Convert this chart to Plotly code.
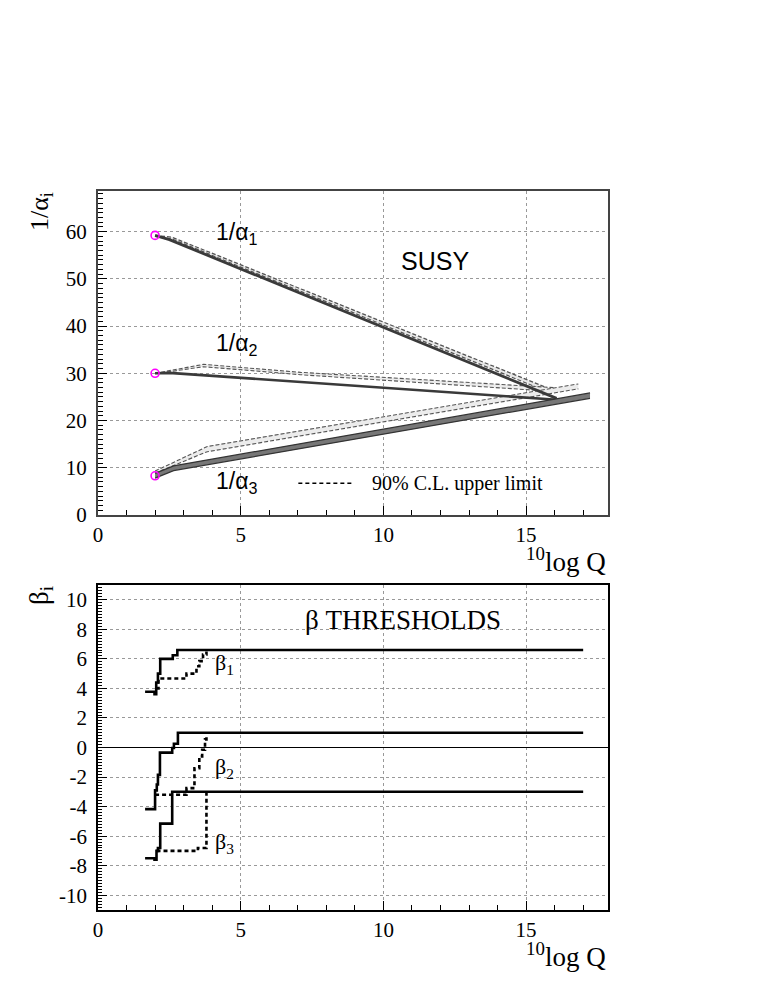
import plotly.graph_objects as go

# ---- top panel: running 1/alpha_i (SUSY) vs 10log Q ----
q_mz = [2.0, 2.0, 2.0]
inv_alpha_mz = [59.2, 30.0, 8.3]

a1_q = [2.0, 2.5, 16.07]
a1 = [59.2, 58.3, 24.7]
a2_q = [2.0, 2.5, 16.07]
a2 = [30.0, 30.1, 24.4]
a3_q = [2.0, 2.65, 17.24]
a3_lo = [7.8, 9.4, 24.7]
a3_hi = [8.8, 10.4, 25.85]

# 90% C.L. upper limit bands
a1_ul_q = [2.0, 2.6, 15.75]
a1_ul_lo = [59.0, 58.4, 26.1]
a1_ul_hi = [59.2, 58.8, 26.9]
a2_ul_q = [2.0, 3.7, 7.1, 16.0]
a2_ul_lo = [29.9, 31.4, 29.7, 26.15]
a2_ul_hi = [30.0, 31.9, 30.2, 26.95]
a3_ul_q = [2.0, 3.83, 16.83]
a3_ul_lo = [8.9, 13.4, 26.7]
a3_ul_hi = [9.3, 14.5, 27.75]

# ---- bottom panel: beta coefficients with thresholds (step functions) ----
b1_q = [1.65, 1.98, 2.04, 2.1, 2.18, 2.62, 2.78, 17.0]
b1 = [3.77, 3.6, 4.4, 5.0, 6.0, 6.25, 6.6, 6.6]
b2_q = [1.65, 2.0, 2.06, 2.1, 2.17, 2.6, 2.66, 2.8, 17.0]
b2 = [-4.17, -2.9, -2.5, -1.85, -0.35, -0.03, 0.25, 1.0, 1.0]
b3_q = [1.65, 1.98, 2.05, 2.1, 2.18, 2.6, 17.0]
b3 = [-7.5, -7.6, -7.0, -6.8, -5.15, -3.0, -3.0]

b1_ul_q = [2.04, 2.12, 3.1, 3.45, 3.55, 3.68, 3.8]
b1_ul = [4.0, 4.67, 5.0, 5.5, 5.85, 6.3, 6.5]
b2_ul_q = [2.0, 3.1, 3.38, 3.55, 3.65, 3.75, 3.8]
b2_ul = [-3.2, -2.75, -1.4, -0.6, -0.15, 0.55, 0.8]
b3_ul_q = [2.05, 3.5, 3.8]
b3_ul = [-7.0, -6.8, -3.0]

# beta axis ticks (plain hyphen minus, like the original)
beta_ticks = [-10, -8, -6, -4, -2, 0, 2, 4, 6, 8, 10]
beta_labels = ["-10", "-8", "-6", "-4", "-2", "0", "2", "4", "6", "8", "10"]

SERIF = "Liberation Serif, Times New Roman, serif"
SANS = "Liberation Sans, Arial, sans-serif"

fig = go.Figure()


def band(xs, lo, hi, fill, edge, dash, width):
    fig.add_trace(go.Scatter(x=xs + xs[::-1], y=hi + lo[::-1], fill="toself",
                             fillcolor=fill, mode="lines", line=dict(width=0),
                             hoverinfo="skip", showlegend=False))
    for ys in (lo, hi):
        fig.add_trace(go.Scatter(x=xs, y=ys, mode="lines", showlegend=False,
                                 line=dict(color=edge, width=width, dash=dash)))


# dashed upper-limit bands first, solid curves on top
band(a1_ul_q, a1_ul_lo, a1_ul_hi, "#e8e8e8", "#555555", "4px,2px", 1.3)
band(a2_ul_q, a2_ul_lo, a2_ul_hi, "#ececec", "#555555", "4px,2px", 1.1)
band(a3_ul_q, a3_ul_lo, a3_ul_hi, "#ececec", "#555555", "4px,2px", 1.1)

fig.add_trace(go.Scatter(x=a1_q, y=a1, mode="lines", showlegend=False,
                         line=dict(color="#3a3a3a", width=2.8)))
fig.add_trace(go.Scatter(x=a2_q, y=a2, mode="lines", showlegend=False,
                         line=dict(color="#3a3a3a", width=2.6)))
band(a3_q, a3_lo, a3_hi, "#777777", "#333333", "solid", 1.2)

fig.add_trace(go.Scatter(x=q_mz, y=inv_alpha_mz, mode="markers", showlegend=False,
                         marker=dict(symbol="circle-open", size=8, color="magenta",
                                     line=dict(width=1.6))))

# bottom panel
for xs, ys in ((b1_q, b1), (b2_q, b2), (b3_q, b3)):
    fig.add_trace(go.Scatter(x=xs, y=ys, mode="lines", line_shape="hv",
                             showlegend=False, xaxis="x2", yaxis="y2",
                             line=dict(color="black", width=2.6)))
for xs, ys in ((b1_ul_q, b1_ul), (b2_ul_q, b2_ul), (b3_ul_q, b3_ul)):
    fig.add_trace(go.Scatter(x=xs, y=ys, mode="lines", line_shape="hv",
                             showlegend=False, xaxis="x2", yaxis="y2",
                             line=dict(color="black", width=2.6, dash="4px,3px")))

axis_common = dict(showline=True, mirror=True, ticks="inside", ticklen=9,
                   tickcolor="black", showgrid=True, gridcolor="#999999",
                   griddash="dot", gridwidth=1, zeroline=False,
                   tickfont=dict(family=SERIF, size=21, color="black"))

# page body has an 8px margin, so the figure is 8px smaller than the window
fig.update_layout(
    width=755, height=973,
    margin=dict(l=90, r=155, t=183, b=71),
    paper_bgcolor="white", plot_bgcolor="white",
    xaxis=dict(axis_common, domain=[0, 1], range=[0, 17.87], anchor="y",
               dtick=5, tick0=0, linecolor="#444444", linewidth=2,
               ticklabelstandoff=0,
               minor=dict(dtick=1, ticklen=5, ticks="inside", tickcolor="black",
                          showgrid=False)),
    yaxis=dict(axis_common, domain=[0.5494, 1], range=[0, 68.6], anchor="x",
               dtick=10, tick0=0, linecolor="#444444", linewidth=2,
               ticklabelstandoff=5,
               minor=dict(dtick=1, ticklen=5, ticks="inside", tickcolor="black",
                          showgrid=False)),
    xaxis2=dict(axis_common, domain=[0, 1], range=[0, 17.87], anchor="y2",
                dtick=5, tick0=0, linecolor="black", linewidth=1.5,
                ticklabelstandoff=0,
                minor=dict(dtick=1, ticklen=5, ticks="inside", tickcolor="black",
                           showgrid=False)),
    yaxis2=dict(axis_common, domain=[0, 0.452], range=[-11, 11], anchor="x2",
                tickmode="array", tickvals=beta_ticks, ticktext=beta_labels,
                linecolor="black", linewidth=1.5,
                ticklabelstandoff=5, zeroline=True, zerolinecolor="black",
                zerolinewidth=1.3,
                minor=dict(tickmode="linear", tick0=0, dtick=0.2, ticklen=4,
                           ticks="inside", tickcolor="black", showgrid=False)),
)

# legend sample for the dashed band
fig.add_shape(type="line", xref="x", yref="y", x0=7.02, x1=8.95, y0=6.7, y1=6.7,
              line=dict(color="black", width=1.5, dash="4px,3px"))

notes = [
    ("x", "y", 4.84, 59.7, "1/α<sub>1</sub>", SANS, 23),
    ("x", "y", 4.84, 36.2, "1/α<sub>2</sub>", SANS, 23),
    ("x", "y", 4.84, 6.8, "1/α<sub>3</sub>", SANS, 23),
    ("x", "y", 11.81, 53.8, "SUSY", SANS, 25),
    ("x2", "y2", 10.69, 8.61, "β THRESHOLDS", SERIF, 27),
    ("x2", "y2", 4.42, 5.62, "β<sub>1</sub>", SERIF, 22),
    ("x2", "y2", 4.42, -1.36, "β<sub>2</sub>", SERIF, 22),
    ("x2", "y2", 4.42, -6.45, "β<sub>3</sub>", SERIF, 22),
]
for xr, yr, x, y, txt, fam, sz in notes:
    fig.add_annotation(xref=xr, yref=yr, x=x, y=y, text=txt, showarrow=False,
                       xanchor="center", yanchor="middle",
                       font=dict(family=fam, size=sz, color="black"))

fig.add_annotation(xref="x", yref="y", x=9.54, y=6.7, text="90% C.L. upper limit",
                   showarrow=False, xanchor="left", yanchor="middle",
                   font=dict(family=SERIF, size=20, color="black"))

# axis titles
for ypos in (0.5494, 0.0):
    fig.add_annotation(xref="paper", yref="paper", x=1, y=ypos, yshift=-26,
                       text="<sup>10</sup>log Q", showarrow=False,
                       xanchor="right", yanchor="top",
                       font=dict(family=SERIF, size=27, color="black"))
fig.add_annotation(xref="paper", yref="paper", x=-0.112, y=0.972,
                   text="1/α<sub>i</sub>", textangle=-90, showarrow=False,
                   xanchor="center", yanchor="middle",
                   font=dict(family=SERIF, size=26, color="black"))
fig.add_annotation(xref="paper", yref="paper", x=-0.112, y=0.438,
                   text="β<sub>i</sub>", textangle=-90, showarrow=False,
                   xanchor="center", yanchor="middle",
                   font=dict(family=SERIF, size=27, color="black"))

fig.write_html("out.html")
